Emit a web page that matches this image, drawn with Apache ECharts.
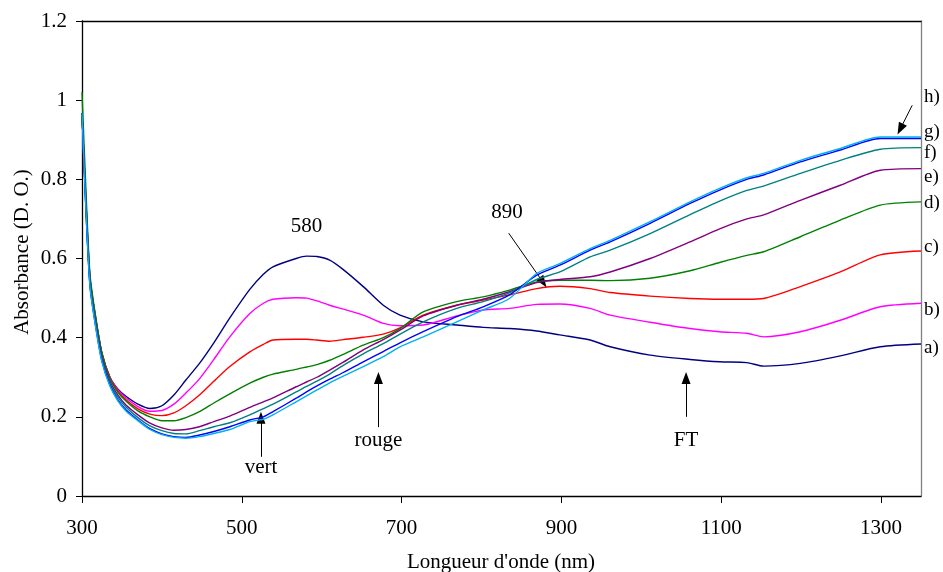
<!DOCTYPE html>
<html>
<head>
<meta charset="utf-8">
<script src="https://cdn.jsdelivr.net/npm/echarts@6/dist/echarts.min.js"></script>
<style>html,body{margin:0;padding:0;background:#fff}#c{width:943px;height:572px}</style>
</head>
<body>
<div id="c"></div>
<script>
// Wavelengths (nm)
var wavelengths = [300,305,310,317,325,335,345,355,370,385,400,415,430,447,465,485,510,527,539,568,581,594,610,627,652,677,698,727,769,802,835,869,898,936,961,1011,1061,1098,1132,1153,1199,1249,1299,1350];
// Absorbance series a) .. h)
var seriesA = [0.967,0.74,0.55,0.45,0.36,0.30,0.27,0.252,0.232,0.221,0.228,0.255,0.293,0.335,0.387,0.450,0.522,0.56,0.579,0.600,0.606,0.605,0.596,0.572,0.529,0.482,0.457,0.440,0.432,0.426,0.423,0.417,0.407,0.394,0.377,0.356,0.345,0.339,0.337,0.328,0.335,0.354,0.377,0.384];
var seriesB = [0.967,0.74,0.55,0.45,0.36,0.30,0.268,0.248,0.226,0.214,0.216,0.232,0.26,0.296,0.345,0.402,0.461,0.487,0.497,0.501,0.500,0.493,0.482,0.472,0.457,0.436,0.430,0.432,0.455,0.470,0.474,0.484,0.485,0.474,0.457,0.439,0.423,0.415,0.411,0.402,0.415,0.444,0.478,0.487];
var seriesC = [0.967,0.74,0.55,0.45,0.36,0.298,0.265,0.243,0.22,0.207,0.203,0.21,0.228,0.255,0.29,0.327,0.364,0.383,0.394,0.396,0.396,0.394,0.391,0.395,0.401,0.409,0.425,0.457,0.482,0.495,0.508,0.524,0.530,0.524,0.514,0.505,0.499,0.497,0.497,0.499,0.529,0.566,0.609,0.619];
var seriesD = [1.02,0.77,0.56,0.455,0.36,0.297,0.262,0.24,0.215,0.2,0.19,0.19,0.198,0.213,0.235,0.258,0.285,0.30,0.308,0.320,0.326,0.332,0.343,0.358,0.381,0.40,0.423,0.465,0.491,0.503,0.520,0.541,0.545,0.545,0.544,0.550,0.569,0.590,0.608,0.617,0.655,0.697,0.735,0.743];
var seriesE = [0.967,0.73,0.54,0.44,0.35,0.29,0.255,0.23,0.205,0.184,0.172,0.166,0.168,0.175,0.188,0.202,0.224,0.238,0.248,0.276,0.288,0.30,0.318,0.338,0.369,0.395,0.419,0.455,0.482,0.497,0.516,0.539,0.547,0.554,0.566,0.600,0.642,0.675,0.700,0.710,0.747,0.785,0.823,0.827];
var seriesF = [0.967,0.72,0.535,0.435,0.345,0.285,0.25,0.225,0.198,0.177,0.165,0.158,0.157,0.165,0.175,0.185,0.205,0.221,0.232,0.263,0.277,0.29,0.308,0.33,0.359,0.385,0.409,0.440,0.474,0.491,0.513,0.547,0.566,0.604,0.621,0.663,0.711,0.745,0.772,0.783,0.815,0.848,0.876,0.880];
var seriesG = [0.967,0.72,0.53,0.43,0.34,0.28,0.243,0.218,0.192,0.17,0.157,0.15,0.148,0.154,0.163,0.175,0.192,0.200,0.213,0.247,0.263,0.278,0.295,0.312,0.339,0.365,0.387,0.415,0.453,0.478,0.508,0.558,0.583,0.621,0.642,0.689,0.739,0.773,0.800,0.811,0.844,0.874,0.903,0.903];
var seriesH = [0.967,0.72,0.53,0.428,0.338,0.277,0.24,0.215,0.19,0.168,0.155,0.148,0.146,0.150,0.158,0.168,0.188,0.194,0.205,0.238,0.253,0.268,0.286,0.303,0.327,0.352,0.377,0.402,0.440,0.470,0.499,0.562,0.587,0.625,0.646,0.693,0.743,0.777,0.804,0.815,0.848,0.878,0.907,0.907];
var curveLabels = ['a)','b)','c)','d)','e)','f)','g)','h)'];
var curveColors = ['#000080','#FF00FF','#FF0000','#008000','#800080','#008080','#0000FF','#00B0F0'];
// annotation texts and arrows (data coords)
var noteTexts = [['580',581,0.68],['890',832,0.715],['vert',524,0.073],['rouge',671,0.139],['FT',1056,0.139]];
var arrows = [[[524,0.099],[524,0.198]],[[671,0.174],[671,0.298]],[[1056,0.2],[1056,0.298]],[[834,0.664],[877,0.54]],[[1339,0.987],[1324,0.927]]];

var allSeries = [seriesA,seriesB,seriesC,seriesD,seriesE,seriesF,seriesG,seriesH];
var font = 'Liberation Serif, Times New Roman, serif';
var chart = echarts.init(document.getElementById('c'), null, {renderer:'canvas'});
var series = allSeries.map(function(s, i){
  return {
    type:'line', name: curveLabels[i], showSymbol:false, smooth:0.25,
    lineStyle:{color:curveColors[i], width:1.4}, itemStyle:{color:curveColors[i]},
    data: wavelengths.map(function(w, j){ return [w, s[j]]; }), z: 2 + i
  };
});
series.push({
  type:'line', data:[], silent:true,
  markLine:{
    silent:true, symbol:['none','triangle'], symbolSize:[9,12],
    lineStyle:{color:'#000', width:1, type:'solid'}, label:{show:false},
    data: arrows.map(function(a){ return [{coord:a[0]},{coord:a[1]}]; })
  }
});
chart.setOption({
  animation:false,
  backgroundColor:'#fff',
  grid:{left:82, right:22, top:21, bottom:76},
  xAxis:[{
    type:'value', min:300, max:1350, interval:200,
    axisLine:{lineStyle:{color:'#000', width:1.3}},
    axisTick:{show:true, inside:false, length:7, lineStyle:{color:'#000'}},
    axisLabel:{fontFamily:font, fontSize:21, color:'#000', margin:22, showMaxLabel:false,
      formatter:function(v){ return String(v); }},
    splitLine:{show:false}
  },{
    type:'value', min:300, max:1350, position:'top',
    axisLine:{show:true, onZero:false, lineStyle:{color:'#000', width:1.3}},
    axisTick:{show:false}, axisLabel:{show:false}, splitLine:{show:false}
  }],
  yAxis:[{
    type:'value', min:0, max:1.2, interval:0.2,
    axisLine:{show:true, lineStyle:{color:'#000', width:1.3}},
    axisTick:{show:true, inside:false, length:6, lineStyle:{color:'#000'}},
    axisLabel:{fontFamily:font, fontSize:21, color:'#000', margin:15},
    splitLine:{show:false}
  },{
    type:'value', min:0, max:1.2, position:'right',
    axisLine:{show:true, onZero:false, lineStyle:{color:'#808080', width:1.3}},
    axisTick:{show:false}, axisLabel:{show:false}, splitLine:{show:false}
  }],
  series: series
});
var g = [];
noteTexts.forEach(function(t){
  var p = chart.convertToPixel({xAxisIndex:0, yAxisIndex:0}, [t[1], t[2]]);
  g.push({type:'text', x:p[0], y:p[1], style:{text:t[0], font:'21px '+font, fill:'#000', textAlign:'center', textVerticalAlign:'middle'}});
});
g.push({type:'text', x:501, y:562, style:{text:"Longueur d'onde (nm)", font:'21px '+font, fill:'#000', textAlign:'center', textVerticalAlign:'middle'}});
g.push({type:'text', x:22, y:252, rotation:Math.PI/2, style:{text:'Absorbance (D. O.)', font:'21px '+font, fill:'#000', textAlign:'center', textVerticalAlign:'middle'}});
var labelY = [348, 310, 247, 203, 177, 153, 132, 97];
curveLabels.forEach(function(l, i){
  g.push({type:'text', x:924, y:labelY[i], style:{text:l, font:'19px '+font, fill:'#000', textAlign:'left', textVerticalAlign:'middle'}});
});
chart.setOption({graphic:g});
</script>
</body>
</html>
